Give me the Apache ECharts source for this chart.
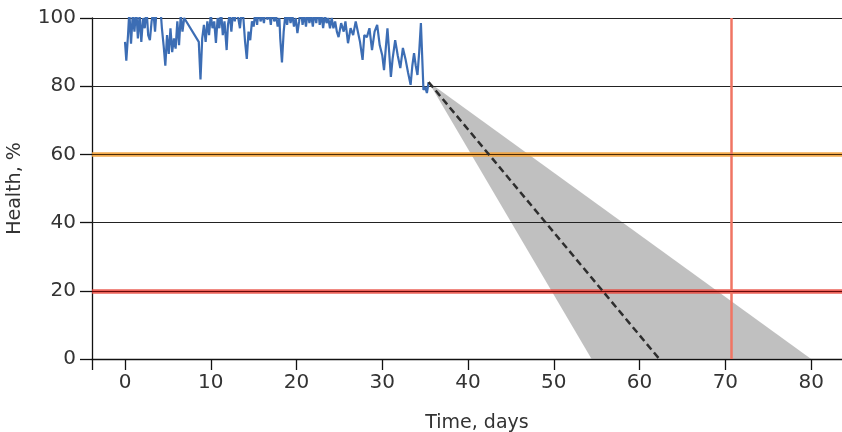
<!DOCTYPE html>
<html>
<head>
<meta charset="utf-8">
<script src="https://cdn.jsdelivr.net/npm/echarts@6/dist/echarts.min.js"></script>
<style>
html,body{margin:0;padding:0;background:#fff;}
#chart{width:842px;height:432px;}
</style>
</head>
<body>
<div id="chart"></div>
<script>
// Measured health history (days, %)
const historyDays = [
  0.0,0.15,0.35,0.5,0.7,0.9,1.1,1.3,1.5,1.7,1.9,2.1,2.3,2.5,2.7,2.9,3.1,3.3,3.5,3.7,3.9,4.1,4.3,4.5,4.7,4.9,
  5.1,5.3,5.5,5.7,5.9,6.1,6.3,6.5,6.7,6.9,8.6,8.8,9.0,9.2,9.4,9.6,9.8,10.0,10.2,10.4,10.6,10.8,11.0,11.2,11.4,
  11.6,11.85,12.0,12.2,12.4,12.6,12.8,13.0,13.2,13.4,13.6,13.8,14.0,14.2,14.4,14.6,
  14.8,15.0,15.2,15.4,15.6,15.8,16.0,16.2,16.4,16.6,16.8,17.0,17.2,17.4,17.6,17.8,18.0,18.1,18.3,18.5,18.7,
  18.9,19.1,19.3,19.5,19.7,19.9,20.1,20.3,20.5,20.7,20.9,21.1,21.3,21.5,21.7,21.9,22.1,22.3,22.5,22.7,22.9,
  23.1,23.3,23.5,23.7,23.9,24.1,24.3,24.5,24.7,24.9,
  25.2,25.5,25.7,26.0,26.3,26.6,26.9,27.1,27.4,27.7,27.9,28.2,
  28.5,28.8,29.1,29.4,29.7,30.0,30.2,30.4,30.6,30.8,31.0,31.2,31.5,31.8,32.1,32.4,32.7,33.0,33.3,33.5,33.7,
  33.9,34.1,34.3,34.5,34.7,34.8,35.0,35.2,35.4
];
const historyHealth = [
  93,87.5,95,102,92.5,101,96,103,94,101,93,100,97,103,95,93.5,99,102,96,103,101,104,97,92,86,95,
  89.5,97,90,94,91,99,92,101,96,100,93,82,94,98,93,99,95,101,97,99,92.7,100,97,102,95,
  99,90.6,98,101,96,102,99,103,100,97,102,100,93,88,96,93.5,
  99,97.5,102,98,103,99,101,98.5,103,99.5,102,98,103,99,101,97.5,100,94,87,96,101,
  98,102,98.5,101,97.5,100,95.6,99,103,98,101,97.5,102,98.5,101,97.5,102,98.5,103,98,101,
  97,101,98.5,100,97,100,97,99,96,94.4,
  98.5,96,99,92.6,97,95,99,98.5,93,87.7,95,94.4,
  97,90.6,96,98,92,89,84.7,91,97,90,82.7,88,93.5,89,85.3,91.2,88,84,80.4,86,89.7,
  86,83.3,90,98.5,98.8,78.9,79.8,78,81.2
];
// Forecast (days, %)
const forecastStart = [35.4, 81.2];
const forecastMeanEnd = [62.3, 0];
const forecastLowerEnd = [54.4, 0];
const forecastUpperEnd = [80.0, 0];
// Thresholds
const warningLevel = 60;
const criticalLevel = 20;
const criticalDay = 70.7;
// Axis
const xTickValues = [0,10,20,30,40,50,60,70,80];
const yTickValues = [0,20,40,60,80,100];

const historyData = historyDays.map((d,i)=>[d, historyHealth[i]]);
const coneData = [forecastStart, forecastLowerEnd, forecastUpperEnd];

const font = 'DejaVu Sans';
const chart = echarts.init(document.getElementById('chart'), null, {renderer:'canvas'});
chart.setOption({
  animation:false,
  backgroundColor:'#ffffff',
  grid:{left:92, right:0, top:18, bottom:73, containLabel:false, outerBoundsMode:'none'},
  xAxis:{
    type:'value', min:-3.85, max:83.6,
    name:'Time, days', nameLocation:'middle', nameGap:55,
    nameTextStyle:{fontFamily:font, fontSize:19, color:'#333', padding:[0,0,0,20]},
    axisLine:{show:true, onZero:false, lineStyle:{color:'#111', width:1.3}},
    axisTick:{show:true, length:11, lineStyle:{color:'#111', width:1.3}, customValues:[-3.85].concat(xTickValues)},
    axisLabel:{fontFamily:font, fontSize:20, color:'#333', margin:14, customValues:xTickValues},
    splitLine:{show:false}
  },
  yAxis:{
    type:'value', min:0, max:100, interval:20,
    name:'Health, %', nameLocation:'middle', nameGap:67, nameRotate:90,
    nameTextStyle:{fontFamily:font, fontSize:19, color:'#333'},
    axisLine:{show:true, onZero:false, lineStyle:{color:'#111', width:1.3}},
    axisTick:{show:true, length:12, lineStyle:{color:'#111', width:1.3}},
    axisLabel:{fontFamily:font, fontSize:20, color:'#333', margin:16},
    splitLine:{show:false}
  },
  series:[
    {
      type:'custom', z:1,
      renderItem:function(params, api){
        const pts = coneData.map(p=>api.coord(p));
        return {type:'polygon', shape:{points:pts}, style:{fill:'rgba(140,140,140,0.55)'}};
      },
      data:[0], clip:true, silent:true
    },
    {
      type:'line', z:2, data:[], silent:true,
      markLine:{
        symbol:'none', silent:true, label:{show:false},
        data:yTickValues.filter(v=>v>0).map(v=>({yAxis:v, lineStyle:{color:'#222', width:1, type:'solid'}}))
      }
    },
    {
      type:'line', z:3, data:[], silent:true,
      markLine:{
        symbol:'none', silent:true, label:{show:false},
        data:[
          {yAxis:warningLevel, lineStyle:{color:'#f2a23a', width:4.5, type:'solid', opacity:0.9}},
          {yAxis:criticalLevel, lineStyle:{color:'#e8473c', width:4.5, type:'solid', opacity:0.85}},
          {xAxis:criticalDay, lineStyle:{color:'#f07563', width:2.5, type:'solid'}}
        ]
      }
    },
    {
      type:'line', z:4, data:[], silent:true,
      markLine:{
        symbol:'none', silent:true, label:{show:false},
        data:[
          {yAxis:warningLevel, lineStyle:{color:'#4a2a08', width:1.2, type:'solid'}},
          {yAxis:criticalLevel, lineStyle:{color:'#6a0a0a', width:1.2, type:'solid'}}
        ]
      }
    },
    {
      type:'line', z:5, data:historyData, showSymbol:false, symbol:'none', clip:true,
      lineStyle:{color:'#3c6db4', width:2.2}
    },
    {
      type:'line', z:6, data:[forecastStart, forecastMeanEnd], showSymbol:false, symbol:'none',
      lineStyle:{color:'#2e2e2e', width:2.5, type:[7,4]}
    }
  ]
});
</script>
</body>
</html>
